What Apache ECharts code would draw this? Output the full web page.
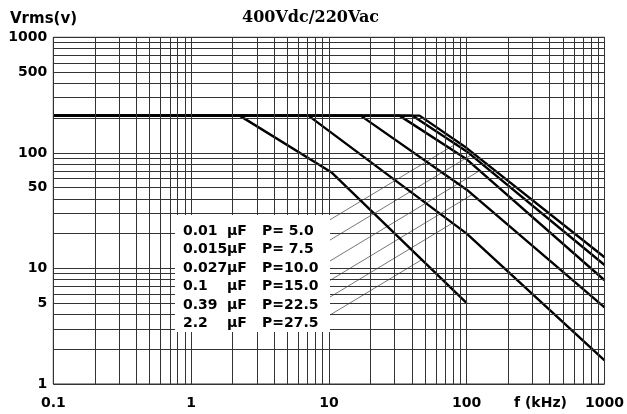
<!DOCTYPE html>
<html>
<head>
<meta charset="utf-8">
<script src="https://cdn.jsdelivr.net/npm/echarts@6/dist/echarts.min.js"></script>
<style>
html,body{margin:0;padding:0;background:#fff;}
#chart{width:627px;height:414px;}
</style>
</head>
<body>
<div id="chart"></div>
<script>
// ---- data (frequency kHz, Vrms) ----
const capLabels = ["0.01", "0.015", "0.027", "0.1", "0.39", "2.2"];
const powerLabels = ["5.0", "7.5", "10.0", "15.0", "22.5", "27.5"];
const curve001 = [[0.1, 210], [45.5, 210], [100, 110], [1000, 12.5]];
const curve0015 = [[0.1, 210], [40.5, 210], [100, 103], [1000, 10.7]];
const curve0027 = [[0.1, 210], [32.5, 210], [100, 88], [1000, 7.9]];
const curve01 = [[0.1, 210], [17, 210], [100, 48], [1000, 4.6]];
const curve039 = [[0.1, 210], [7.1, 210], [100, 20], [1000, 1.6]];
const curve22 = [[0.1, 210], [2.25, 210], [10.4, 68], [100, 5.0]];
// leader lines from legend rows to curves [start, end]
const leader001 = [[8.37, 22.9], [87.3, 123.5]];
const leader0015 = [[8.84, 15.9], [107.8, 95.9]];
const leader0027 = [[9.10, 10.7], [124.5, 70.2]];
const leader01 = [[9.36, 7.42], [110, 43.7]];
const leader039 = [[9.36, 5.32], [78.9, 24.7]];
const leader22 = [[9.36, 3.72], [47.2, 11.9]];
const xDecades = [0.1, 1, 10, 100, 1000];
const yDecades = [1, 10, 100, 1000];
const yLabelValues = [1, 5, 10, 50, 100, 500, 1000];
const titleText = "400Vdc/220Vac";

const curves = [curve001, curve0015, curve0027, curve01, curve039, curve22];
const leaders = [leader001, leader0015, leader0027, leader01, leader039, leader22];

// grid line positions (1..9 x decade)
function gridValues(decades) {
  const out = [];
  for (let i = 0; i < decades.length; i++) {
    out.push(decades[i]);
    if (i < decades.length - 1) {
      for (let k = 2; k <= 9; k++) out.push(+(decades[i] * k).toPrecision(3));
    }
  }
  return out;
}
const gx = gridValues(xDecades);
const gy = gridValues(yDecades);

const chart = echarts.init(document.getElementById('chart'), null, {renderer: 'canvas'});
const labelFont = {color: '#000', fontWeight: 'bold', fontFamily: 'DejaVu Sans', fontSize: 14};

const series = [];
series.push({
  type: 'line', data: [], silent: true, z: 1,
  markLine: {
    silent: true, symbol: ['none', 'none'], animation: false,
    label: {show: false},
    lineStyle: {color: '#333', width: 1, type: 'solid'},
    emphasis: {disabled: true},
    data: gx.map(v => ({xAxis: v})).concat(gy.map(v => ({yAxis: v})))
  }
});
leaders.forEach(l => {
  series.push({
    type: 'line', data: l, symbol: 'none', silent: true, z: 2,
    lineStyle: {color: '#777', width: 1}
  });
});
curves.forEach(c => {
  series.push({
    type: 'line', data: c, symbol: 'none', silent: true, z: 3,
    lineStyle: {color: '#000', width: 2.4}
  });
});

const rowY = [231, 249.5, 268, 286.5, 305, 323.5];
const graphics = [
  {type: 'rect', shape: {x: 175, y: 215, width: 155, height: 117}, style: {fill: '#fff'}, z: 10},
  {type: 'text', left: 10, top: 12, style: {text: 'Vrms(v)', fill: '#000', font: 'bold 15px "DejaVu Sans"'}, z: 11},
  {type: 'text', left: 514, top: 396, style: {text: 'f (kHz)', fill: '#000', font: 'bold 14px "DejaVu Sans"'}, z: 11}
];
capLabels.forEach((c, i) => {
  graphics.push({type: 'text', x: 183, y: rowY[i], style: {text: c, fill: '#000', font: 'bold 14px "DejaVu Sans"', verticalAlign: 'middle'}, z: 11});
  graphics.push({type: 'text', x: 227, y: rowY[i], style: {text: 'µF', fill: '#000', font: 'bold 14px "DejaVu Sans"', verticalAlign: 'middle'}, z: 11});
  const p = powerLabels[i].length < 4 ? 'P= ' + powerLabels[i] : 'P=' + powerLabels[i];
  graphics.push({type: 'text', x: 262, y: rowY[i], style: {text: p, fill: '#000', font: 'bold 14px "DejaVu Sans"', verticalAlign: 'middle'}, z: 11});
});

chart.setOption({
  animation: false,
  backgroundColor: '#fff',
  title: {
    text: titleText, left: 237, top: 5,
    textStyle: {fontFamily: 'DejaVu Serif', fontWeight: 'bold', fontSize: 16, color: '#000'}
  },
  grid: {left: 53.3, right: 18.8, top: 37.3, bottom: 30, show: true, borderColor: '#333', borderWidth: 1, backgroundColor: 'transparent'},
  xAxis: {
    type: 'log', logBase: 10, min: 0.1, max: 1000,
    axisLine: {show: false}, axisTick: {show: false}, splitLine: {show: false},
    axisLabel: Object.assign({margin: 12, formatter: v => String(+v.toPrecision(3))}, labelFont)
  },
  yAxis: {
    type: 'log', logBase: 10, min: 1, max: 1000,
    axisLine: {show: false}, axisTick: {show: false}, splitLine: {show: false},
    axisLabel: Object.assign({margin: 6, padding: [6, 0, 0, 0], customValues: yLabelValues, formatter: v => String(+v.toPrecision(3))}, labelFont)
  },
  graphic: graphics,
  series: series
});
</script>
</body>
</html>
